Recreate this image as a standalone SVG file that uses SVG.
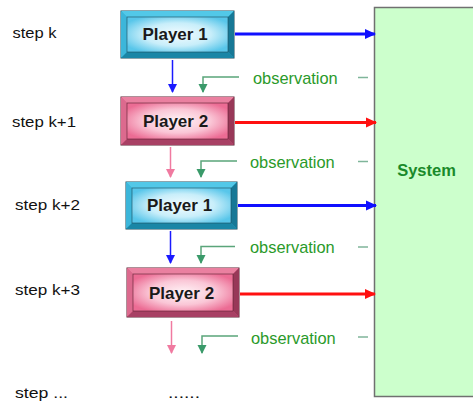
<svg xmlns="http://www.w3.org/2000/svg" width="473" height="403" viewBox="0 0 473 403">
<defs>
<style>
.step{font-family:"Liberation Sans",Arial,sans-serif;font-size:15px;fill:#111}
.obs{font-family:"Liberation Sans",Arial,sans-serif;font-size:16.4px;fill:#2a9a2a}
.pl{font-family:"Liberation Sans",Arial,sans-serif;font-size:17px;font-weight:bold;fill:#1a1a1a;text-anchor:middle}
.sys{font-family:"Liberation Sans",Arial,sans-serif;font-size:16.5px;font-weight:bold;fill:#1a8a2a;text-anchor:middle}
.p1o{fill:#30b4d8;stroke:#1d4a5a;stroke-width:1}
.p2o{fill:#d85c84;stroke:#5a2030;stroke-width:1}
.b1t{fill:#52c8e8}.b1l{fill:#3cb6da}.b1b{fill:#1a86a6}.b1r{fill:#177896}
.b2t{fill:#ea80a0}.b2l{fill:#dc6a8e}.b2b{fill:#a84064}.b2r{fill:#983858}
.hb{stroke:#1010ff;stroke-width:3;fill:none}
.hr{stroke:#ff1010;stroke-width:3;fill:none}
.vb{stroke:#1a1aff;stroke-width:1.5;fill:none}
.vp{stroke:#f07aa0;stroke-width:1.5;fill:none}
.vg{stroke:#5aa57a;stroke-width:1.5;fill:none}
.dash{stroke:#7fb59a;stroke-width:1.5}
</style>
<radialGradient id="g1" cx="0.5" cy="0.5" r="0.6">
<stop offset="0" stop-color="#f4fcff"/><stop offset="0.55" stop-color="#c8eefa"/><stop offset="1" stop-color="#58c6ea"/>
</radialGradient>
<radialGradient id="g2" cx="0.5" cy="0.5" r="0.6">
<stop offset="0" stop-color="#fff4f7"/><stop offset="0.55" stop-color="#fac6d6"/><stop offset="1" stop-color="#ec6c94"/>
</radialGradient>
<marker id="ab" markerUnits="userSpaceOnUse" markerWidth="12" markerHeight="12" refX="10" refY="6" orient="auto"><path d="M0,1 L11,6 L0,11 Z" fill="#1010ff"/></marker>
<marker id="ar" markerUnits="userSpaceOnUse" markerWidth="12" markerHeight="12" refX="10" refY="6" orient="auto"><path d="M0,1 L11,6 L0,11 Z" fill="#ff1010"/></marker>
<marker id="avb" markerUnits="userSpaceOnUse" markerWidth="10" markerHeight="10" refX="8" refY="5" orient="auto"><path d="M0,0.5 L9,5 L0,9.5 Z" fill="#1a1aff"/></marker>
<marker id="avp" markerUnits="userSpaceOnUse" markerWidth="10" markerHeight="10" refX="8" refY="5" orient="auto"><path d="M0,0.5 L9,5 L0,9.5 Z" fill="#f07aa0"/></marker>
<marker id="avg" markerUnits="userSpaceOnUse" markerWidth="10" markerHeight="10" refX="8" refY="5" orient="auto"><path d="M0,0.5 L9,5 L0,9.5 Z" fill="#3a9a6a"/></marker>
</defs>
<rect width="473" height="403" fill="#ffffff"/>

<g id="system">
<rect x="374.5" y="7.5" width="110" height="389" fill="#ccffcc" stroke="#707070" stroke-width="1.5"/>
<text class="sys" x="426.5" y="176">System</text>
</g>

<g id="labels">
<text class="step" x="12.5" y="38" textLength="44" lengthAdjust="spacingAndGlyphs">step k</text>
<text class="step" x="12" y="127" textLength="64" lengthAdjust="spacingAndGlyphs">step k+1</text>
<text class="step" x="15" y="210" textLength="65" lengthAdjust="spacingAndGlyphs">step k+2</text>
<text class="step" x="15" y="295" textLength="65" lengthAdjust="spacingAndGlyphs">step k+3</text>
<text class="step" x="15" y="398" textLength="53" lengthAdjust="spacingAndGlyphs">step ...</text>
<text class="step" x="168" y="398" textLength="32" lengthAdjust="spacingAndGlyphs">......</text>
</g>

<g id="player1a">
<rect class="p1o" x="121" y="11" width="113" height="47"/>
<polygon class="b1t" points="121,11 234,11 228,17 127,17"/>
<polygon class="b1l" points="121,11 127,17 127,52 121,58"/>
<polygon class="b1b" points="121,58 127,52 228,52 234,58"/>
<polygon class="b1r" points="234,11 234,58 228,52 228,17"/>
<rect x="127" y="17" width="101" height="35" fill="url(#g1)" stroke="#1d4a5a" stroke-width="0.6"/>
<text class="pl" x="175" y="40">Player 1</text>
</g>

<g id="player2a">
<rect class="p2o" x="121" y="97" width="113" height="48"/>
<polygon class="b2t" points="121,97 234,97 228,103 127,103"/>
<polygon class="b2l" points="121,97 127,103 127,139 121,145"/>
<polygon class="b2b" points="121,145 127,139 228,139 234,145"/>
<polygon class="b2r" points="234,97 234,145 228,139 228,103"/>
<rect x="127" y="103" width="101" height="36" fill="url(#g2)" stroke="#5a2030" stroke-width="0.6"/>
<text class="pl" x="175.5" y="127">Player 2</text>
</g>

<g id="player1b">
<rect class="p1o" x="126" y="182" width="111" height="47"/>
<polygon class="b1t" points="126,182 237,182 231,188 132,188"/>
<polygon class="b1l" points="126,182 132,188 132,223 126,229"/>
<polygon class="b1b" points="126,229 132,223 231,223 237,229"/>
<polygon class="b1r" points="237,182 237,229 231,223 231,188"/>
<rect x="132" y="188" width="99" height="35" fill="url(#g1)" stroke="#1d4a5a" stroke-width="0.6"/>
<text class="pl" x="179.5" y="211">Player 1</text>
</g>

<g id="player2b">
<rect class="p2o" x="127" y="268" width="112" height="49"/>
<polygon class="b2t" points="127,268 239,268 233,274 133,274"/>
<polygon class="b2l" points="127,268 133,274 133,311 127,317"/>
<polygon class="b2b" points="127,317 133,311 233,311 239,317"/>
<polygon class="b2r" points="239,268 239,317 233,311 233,274"/>
<rect x="133" y="274" width="100" height="37" fill="url(#g2)" stroke="#5a2030" stroke-width="0.6"/>
<text class="pl" x="181.5" y="298.5">Player 2</text>
</g>

<g id="observations">
<text class="obs" x="253" y="84">observation</text>
<text class="obs" x="250" y="168">observation</text>
<text class="obs" x="250" y="253">observation</text>
<text class="obs" x="251" y="344">observation</text>
</g>

<g id="connectors">
<line class="hb" x1="235" y1="34" x2="375" y2="34" marker-end="url(#ab)"/>
<line class="hr" x1="235" y1="122.5" x2="376" y2="122.5" marker-end="url(#ar)"/>
<line class="hb" x1="238" y1="205.5" x2="376" y2="205.5" marker-end="url(#ab)"/>
<line class="hr" x1="240" y1="294" x2="375" y2="294" marker-end="url(#ar)"/>

<line class="vb" x1="172.5" y1="60" x2="172.5" y2="92" marker-end="url(#avb)"/>
<line class="vp" x1="170.5" y1="147" x2="170.5" y2="177" marker-end="url(#avp)"/>
<line class="vb" x1="170.5" y1="231" x2="170.5" y2="263" marker-end="url(#avb)"/>
<line class="vp" x1="171.5" y1="321" x2="171.5" y2="353" marker-end="url(#avp)"/>

<polyline class="vg" points="239,77 203,77 203,92" marker-end="url(#avg)"/>
<polyline class="vg" points="237,161 201,161 201,177" marker-end="url(#avg)"/>
<polyline class="vg" points="235,246.5 201,246.5 201,263" marker-end="url(#avg)"/>
<polyline class="vg" points="238,336 202,336 202,353" marker-end="url(#avg)"/>

<line class="dash" x1="358" y1="77.5" x2="368" y2="77.5"/>
<line class="dash" x1="358" y1="161.5" x2="368" y2="161.5"/>
<line class="dash" x1="358" y1="247" x2="368" y2="247"/>
<line class="dash" x1="358" y1="337" x2="368" y2="337"/>
</g>
</svg>
